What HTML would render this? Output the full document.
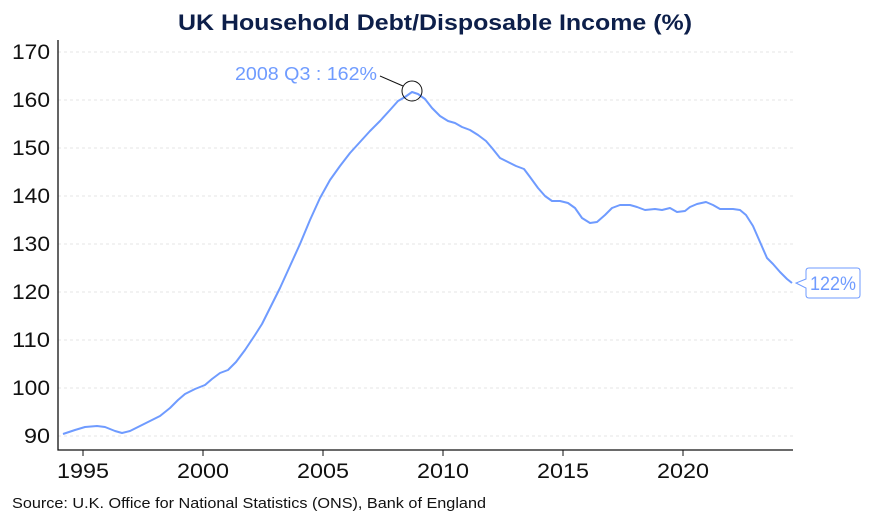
<!DOCTYPE html>
<html><head><meta charset="utf-8"><style>
body{margin:0;background:#fff;font-family:"Liberation Sans",sans-serif;}
</style></head><body>
<svg width="869" height="523" viewBox="0 0 869 523" xmlns="http://www.w3.org/2000/svg" font-family="Liberation Sans, sans-serif">
<text x="178" y="30" textLength="514" lengthAdjust="spacingAndGlyphs" font-size="22" font-weight="bold" fill="#0d1f4a">UK Household Debt/Disposable Income (%)</text>
<g stroke="#dcdcdc" stroke-dasharray="3,3" stroke-width="0.8">
<line x1="58" x2="793" y1="52" y2="52"/><line x1="58" x2="793" y1="100" y2="100"/><line x1="58" x2="793" y1="148" y2="148"/><line x1="58" x2="793" y1="196" y2="196"/><line x1="58" x2="793" y1="244" y2="244"/><line x1="58" x2="793" y1="292" y2="292"/><line x1="58" x2="793" y1="340" y2="340"/><line x1="58" x2="793" y1="388" y2="388"/><line x1="58" x2="793" y1="436" y2="436"/>
</g>
<g font-size="21" fill="#111" text-anchor="end" lengthAdjust="spacingAndGlyphs">
<text x="50" y="59" textLength="38" lengthAdjust="spacingAndGlyphs">170</text><text x="50" y="107" textLength="38" lengthAdjust="spacingAndGlyphs">160</text><text x="50" y="155" textLength="38" lengthAdjust="spacingAndGlyphs">150</text><text x="50" y="203" textLength="38" lengthAdjust="spacingAndGlyphs">140</text><text x="50" y="251" textLength="38" lengthAdjust="spacingAndGlyphs">130</text><text x="50" y="299" textLength="38" lengthAdjust="spacingAndGlyphs">120</text><text x="50" y="347" textLength="38" lengthAdjust="spacingAndGlyphs">110</text><text x="50" y="395" textLength="38" lengthAdjust="spacingAndGlyphs">100</text><text x="50" y="443" textLength="26" lengthAdjust="spacingAndGlyphs">90</text>
</g>
<path d="M58 40V450H793" fill="none" stroke="#111" stroke-width="1.3"/>
<g stroke="#111"><line x1="83" x2="83" y1="450" y2="456"/><line x1="203" x2="203" y1="450" y2="456"/><line x1="323" x2="323" y1="450" y2="456"/><line x1="443" x2="443" y1="450" y2="456"/><line x1="563" x2="563" y1="450" y2="456"/><line x1="683" x2="683" y1="450" y2="456"/></g>
<g font-size="21" fill="#111">
<text x="57" y="478" textLength="52" lengthAdjust="spacingAndGlyphs">1995</text><text x="177" y="478" textLength="52" lengthAdjust="spacingAndGlyphs">2000</text><text x="297" y="478" textLength="52" lengthAdjust="spacingAndGlyphs">2005</text><text x="417" y="478" textLength="52" lengthAdjust="spacingAndGlyphs">2010</text><text x="537" y="478" textLength="52" lengthAdjust="spacingAndGlyphs">2015</text><text x="657" y="478" textLength="52" lengthAdjust="spacingAndGlyphs">2020</text>
</g>
<polyline fill="none" stroke="#6f9bff" stroke-width="2" stroke-linejoin="round" points="63,434 75,430 85,427 97,426 105,427 115,431 122,433 130,431 140,426 150,421 160,416 170,408 178,400 185,394 195,389 205,385 212,379 220,373 228,370 236,362 245,350 255,335 262,324 270,308 280,288 290,266 300,244 310,220 320,198 330,180 340,166 350,153 360,142 370,131 380,121 390,110 398,101 405,97 412,92 418,94 425,99 432,108 440,116 448,121 455,123 462,127 470,130 478,135 486,141 492,148 500,158 508,162 516,166 524,169 530,177 538,188 545,196 552,201 560,201 568,203 575,208 582,218 590,223 597,222 605,215 612,208 620,205 630,205 637,207 645,210 655,209 662,210 670,208 677,212 685,211 690,207 697,204 706,202 713,205 720,209 733,209 740,210 746,215 753,226 760,242 767,258 773,264 780,272 787,279 792,283"/>
<circle cx="412" cy="91" r="10" fill="none" stroke="#111" stroke-width="1"/>
<line x1="380" y1="76" x2="403" y2="86" stroke="#111" stroke-width="1"/>
<text x="235" y="80" textLength="142" lengthAdjust="spacingAndGlyphs" font-size="18" fill="#6f9bff">2008 Q3 : 162%</text>
<path d="M809 268H857Q860 268 860 271V295Q860 298 857 298H809Q806 298 806 295V288L796 283L806 279V271Q806 268 809 268Z" fill="#fff" stroke="#6f9bff" stroke-width="1"/>
<text x="810" y="290" textLength="46" lengthAdjust="spacingAndGlyphs" font-size="19" fill="#6f9bff">122%</text>
<text x="12" y="508" textLength="474" lengthAdjust="spacingAndGlyphs" font-size="15" fill="#111">Source: U.K. Office for National Statistics (ONS), Bank of England</text>
</svg>
</body></html>
